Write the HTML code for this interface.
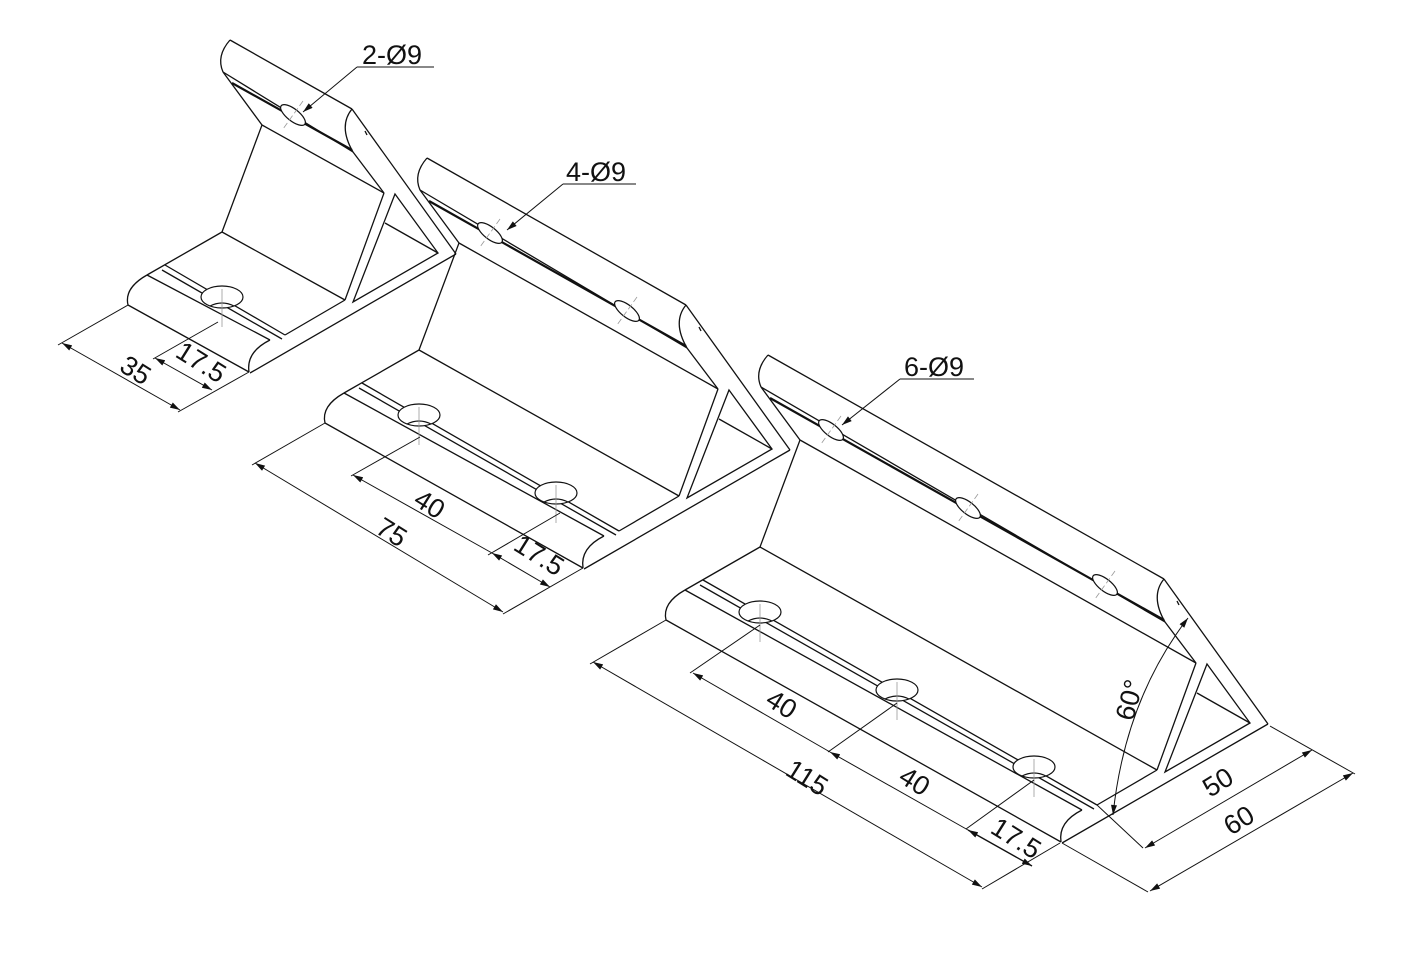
<!DOCTYPE html>
<html><head><meta charset="utf-8"><style>
html,body{margin:0;padding:0;background:#fff;}
svg{display:block}
text{font-family:"Liberation Sans",sans-serif;font-size:27px;fill:#111}
</style></head><body>
<svg width="1427" height="978" viewBox="0 0 1427 978" xmlns="http://www.w3.org/2000/svg">
<defs>
<marker id="ar" viewBox="0 0 10 6" refX="10" refY="3" markerWidth="14" markerHeight="6" markerUnits="userSpaceOnUse" orient="auto-start-reverse">
<path d="M0,0 L10,3 L0,6 z" fill="#111"/></marker>
<g id="far" fill="none" stroke="#111" stroke-width="1.3">
<path d="M230,40 Q216,56 223,72"/>
<line x1="223" y1="72" x2="262" y2="125"/>
<line x1="262" y1="125" x2="222" y2="232"/>
<line x1="222" y1="232" x2="147" y2="275"/>
<path d="M147,275 Q124,288 128,305"/>
</g>
<g id="near" fill="none" stroke="#111" stroke-width="1.3">
<path d="M352,109 Q338,126 353,152"/>
<line x1="353" y1="152" x2="384" y2="193"/>
<line x1="352" y1="109" x2="456" y2="254"/>
<line x1="456" y1="254" x2="250" y2="373"/>
<line x1="384" y1="193" x2="345" y2="300"/>
<polygon points="395,194 438,253 353,302"/>
<line x1="385" y1="223" x2="438" y2="253"/>
<line x1="345" y1="300" x2="285" y2="335"/>
<path d="M270,340 Q246,352 249,372"/>
<line x1="365" y1="131" x2="367" y2="135"/>
</g>
<g id="bh" fill="none" stroke="#111" stroke-width="1.2">
<ellipse cx="0" cy="0" rx="21" ry="11" fill="#fff"/>
<path d="M-12,9 Q0,3 12,9"/>
<line x1="0" y1="-8" x2="0" y2="30" stroke="#999" stroke-width="0.8"/>
</g>
<g id="fh" fill="none" stroke="#111" stroke-width="1.2">
<ellipse cx="0" cy="0" rx="15" ry="6" transform="rotate(38)" fill="#fff"/>
<line x1="10" y1="-14" x2="-10" y2="14" stroke="#999" stroke-width="0.8" stroke-dasharray="6,3"/>
</g>
</defs>

<g>
<g fill="none" stroke="#111" stroke-width="1.3">
<line x1="230" y1="40" x2="352" y2="109"/>
<line x1="223" y1="72" x2="353" y2="152"/>
<line x1="232" y1="83" x2="352" y2="150" stroke-width="2.2"/>
<line x1="262" y1="125" x2="384" y2="193"/>
<line x1="222" y1="232" x2="345" y2="300"/>
<line x1="165" y1="265" x2="285" y2="335"/>
<line x1="162" y1="270" x2="282" y2="339"/>
<line x1="147" y1="275" x2="270" y2="340"/>
<line x1="128" y1="305" x2="249" y2="372"/>
</g>
<use href="#far"/><use href="#near"/>
<use href="#bh" x="222" y="297"/>
<use href="#fh" x="293" y="115"/>
</g>

<g transform="translate(197,118)">
<g fill="none" stroke="#111" stroke-width="1.3">
<line x1="230" y1="40" x2="489" y2="187"/>
<line x1="223" y1="72" x2="490" y2="230"/>
<line x1="232" y1="83" x2="489" y2="228" stroke-width="2.2"/>
<line x1="262" y1="125" x2="521" y2="271"/>
<line x1="222" y1="232" x2="482" y2="378"/>
<line x1="165" y1="265" x2="422" y2="413"/>
<line x1="162" y1="270" x2="419" y2="417"/>
<line x1="147" y1="275" x2="407" y2="418"/>
<line x1="128" y1="305" x2="386" y2="450"/>
</g>
<use href="#far"/><use href="#near" transform="translate(137,78)"/>
<use href="#bh" x="222" y="297"/><use href="#bh" x="359" y="375"/>
<use href="#fh" x="293" y="115"/><use href="#fh" x="430" y="193"/>
</g>

<g transform="translate(538,315)">
<g fill="none" stroke="#111" stroke-width="1.3">
<line x1="230" y1="40" x2="626" y2="264"/>
<line x1="223" y1="72" x2="627" y2="307"/>
<line x1="232" y1="83" x2="626" y2="305" stroke-width="2.2"/>
<line x1="262" y1="125" x2="658" y2="348"/>
<line x1="222" y1="232" x2="619" y2="455"/>
<line x1="165" y1="265" x2="559" y2="490"/>
<line x1="162" y1="270" x2="556" y2="494"/>
<line x1="147" y1="275" x2="544" y2="495"/>
<line x1="128" y1="305" x2="523" y2="527"/>
</g>
<use href="#far"/><use href="#near" transform="translate(274,155)"/>
<use href="#bh" x="222" y="297"/><use href="#bh" x="359" y="375"/><use href="#bh" x="496" y="452"/>
<use href="#fh" x="293" y="115"/><use href="#fh" x="430" y="193"/><use href="#fh" x="567" y="270"/>
</g>

<g fill="none" stroke="#111" stroke-width="1">
<line x1="128" y1="305" x2="58" y2="345"/>
<line x1="249" y1="372" x2="178" y2="412"/>
<line x1="62" y1="343" x2="180" y2="410" marker-start="url(#ar)" marker-end="url(#ar)"/>
<line x1="218" y1="322" x2="153" y2="359"/>
<line x1="155" y1="358" x2="212" y2="390" marker-start="url(#ar)" marker-end="url(#ar)"/>
<line x1="357" y1="67" x2="434" y2="67"/>
<line x1="357" y1="67" x2="303" y2="112" marker-end="url(#ar)"/>
<line x1="325" y1="423" x2="252" y2="465"/>
<line x1="583" y1="568" x2="503" y2="614"/>
<line x1="255" y1="463" x2="503" y2="612" marker-start="url(#ar)" marker-end="url(#ar)"/>
<line x1="420" y1="437" x2="351" y2="476"/>
<line x1="560" y1="513" x2="488" y2="555"/>
<line x1="353" y1="475" x2="492" y2="553" marker-start="url(#ar)"/>
<line x1="492" y1="553" x2="550" y2="587" marker-start="url(#ar)" marker-end="url(#ar)"/>
<line x1="563" y1="184" x2="636" y2="184"/>
<line x1="563" y1="184" x2="507" y2="230" marker-end="url(#ar)"/>
<line x1="666" y1="620" x2="590" y2="664"/>
<line x1="1060" y1="843" x2="982" y2="889"/>
<line x1="593" y1="662" x2="982" y2="887" marker-start="url(#ar)" marker-end="url(#ar)"/>
<line x1="760" y1="625" x2="690" y2="673"/>
<line x1="897" y1="703" x2="828" y2="752"/>
<line x1="1034" y1="780" x2="966" y2="829"/>
<line x1="693" y1="673" x2="830" y2="752" marker-start="url(#ar)"/>
<line x1="830" y1="752" x2="968" y2="830" marker-start="url(#ar)"/>
<line x1="968" y1="830" x2="1032" y2="866" marker-start="url(#ar)" marker-end="url(#ar)" stroke-width="1.4"/>
<line x1="1097" y1="805" x2="1143" y2="848"/>
<line x1="1270" y1="726" x2="1355" y2="774"/>
<line x1="1145" y1="848" x2="1312" y2="750" marker-start="url(#ar)" marker-end="url(#ar)"/>
<line x1="1062" y1="843" x2="1148" y2="892"/>
<line x1="1150" y1="891" x2="1353" y2="773" marker-start="url(#ar)" marker-end="url(#ar)"/>
<path d="M1188,618 Q1125,700 1113,815" marker-start="url(#ar)" marker-end="url(#ar)"/>
<line x1="900" y1="379" x2="974" y2="379"/>
<line x1="900" y1="379" x2="842" y2="425" marker-end="url(#ar)"/>
</g>

<g>
<text x="362" y="64">2-Ø9</text>
<text x="566" y="181">4-Ø9</text>
<text x="904" y="376">6-Ø9</text>
<text transform="translate(118,370) rotate(32)">35</text>
<text transform="translate(174,356) rotate(32)">17.5</text>
<text transform="translate(412,504) rotate(32)">40</text>
<text transform="translate(374,532) rotate(32)">75</text>
<text transform="translate(512,549) rotate(32)">17.5</text>
<text transform="translate(764,704) rotate(32)">40</text>
<text transform="translate(784,774) rotate(32)">115</text>
<text transform="translate(897,781) rotate(32)">40</text>
<text transform="translate(989,832) rotate(32)">17.5</text>
<text transform="translate(1133,722) rotate(-75)">60°</text>
<text transform="translate(1210,798) rotate(-32)">50</text>
<text transform="translate(1231,836) rotate(-32)">60</text>
</g>
</svg>
</body></html>
